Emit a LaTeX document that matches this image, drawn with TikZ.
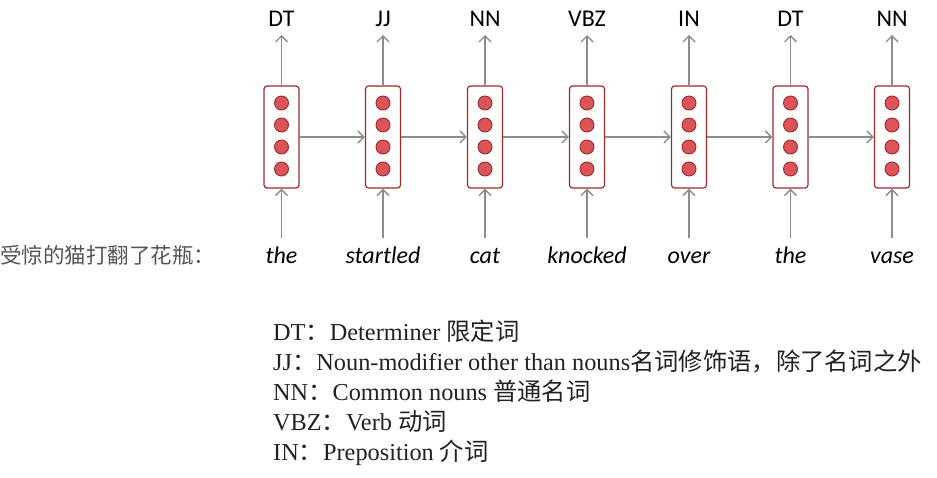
\documentclass[tikz,border=0pt]{standalone}
\usepackage{fontspec}
\setmainfont{Liberation Serif}
\newfontfamily\lbl{Carlito}
\newfontfamily\cjk{Noto Sans CJK SC}
\usetikzlibrary{arrows.meta}
\definecolor{boxred}{HTML}{A3282B}
\definecolor{dotred}{HTML}{D95558}
\definecolor{arrgray}{HTML}{8C8C8C}
\definecolor{txtgray}{HTML}{555555}
\definecolor{legtxt}{HTML}{222222}
\tikzset{
  cell/.style={draw=boxred, line width=1.2pt, rounded corners=3pt, minimum width=35pt, minimum height=102pt, inner sep=0pt, fill=white},
  dot/.style={circle, draw=boxred, line width=0.9pt, fill=dotred, minimum size=14pt, inner sep=0pt},
  conn/.style={draw=arrgray, line width=1.4pt, -{Straight Barb[length=6pt,width=12pt]}},
  tag/.style={font=\lbl\fontsize{24}{28}\selectfont, anchor=base},
  word/.style={font=\lbl\itshape\fontsize{24}{28}\selectfont, anchor=base},
  leg/.style={font=\fontsize{24.3}{28}\selectfont, text=legtxt, anchor=base west, inner sep=0pt}
}
\begin{document}
\begin{tikzpicture}[x=1pt,y=-1pt]
\useasboundingbox (0,0) rectangle (937,477);
\foreach \i/\x/\t/\w in {1/281.5/DT/the, 2/383/JJ/startled, 3/485/NN/cat, 4/587/VBZ/knocked, 5/689/IN/over, 6/790.5/DT/the, 7/892/NN/vase}{
  \node[cell] (c\i) at (\x,137) {};
  \foreach \j/\y in {1/103,2/125,3/147,4/169}{
    \node[dot] (d\i\j) at (\x,\y) {};
  }
  \node[tag] (t\i) at (\x,26.5) {\t};
  \coordinate (tt\i) at (\x,35);
  \node[word] (w\i) at (\x,263) {\w};
  \coordinate (wb\i) at (\x,238);
  \draw[conn] (c\i.north) -- (tt\i);
  \draw[conn] (wb\i) -- (c\i.south);
}
\foreach \a/\b in {1/2,2/3,3/4,4/5,5/6,6/7}{
  \draw[conn] (c\a.east) -- (c\b.west);
}
\node[font=\cjk\fontsize{21.5}{24}\selectfont, text=txtgray, anchor=base west, inner sep=0pt] (zh) at (0,263) {受惊的猫打翻了花瓶：};
\node[leg] (l1) at (273,340) {DT{\cjk：}Determiner {\cjk 限定词}};
\node[leg] (l2) at (273,370) {JJ{\cjk：}Noun-modifier other than nouns{\cjk 名词修饰语，除了名词之外}};
\node[leg] (l3) at (273,400) {NN{\cjk：}Common nouns {\cjk 普通名词}};
\node[leg] (l4) at (273,430) {VBZ{\cjk：}Verb {\cjk 动词}};
\node[leg] (l5) at (273,460) {IN{\cjk：}Preposition {\cjk 介词}};
\end{tikzpicture}
\end{document}
